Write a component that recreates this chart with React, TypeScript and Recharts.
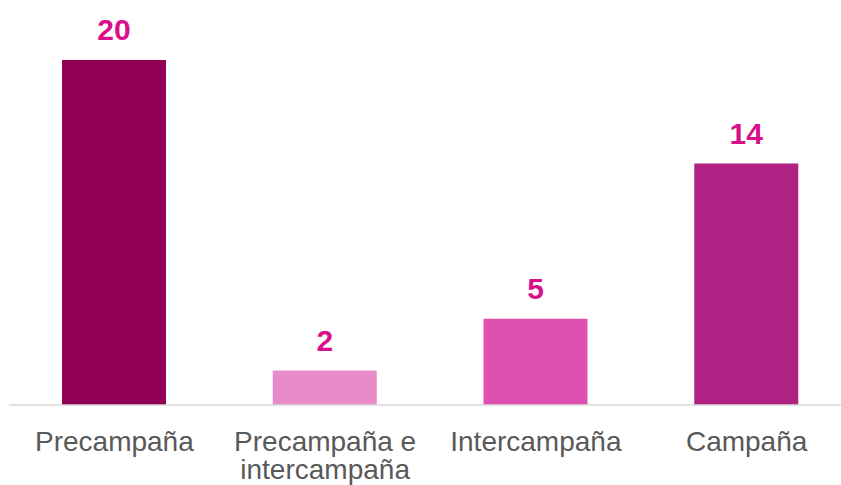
import { BarChart, Bar, XAxis, YAxis, Cell, LabelList } from 'recharts'

const categories = ['Precampaña', 'Precampaña e\nintercampaña', 'Intercampaña', 'Campaña']
const values = [20, 2, 5, 14]
const barColors = ['#920056', '#E98ACB', '#DF51B1', '#AF2182']

const chartData = categories.map((name, i) => ({ name, value: values[i] }))

const FONT = '"Liberation Sans", Arial, sans-serif'

function CategoryTick({ x, y, payload }: any) {
  const lines = String(payload.value).split('\n')
  return (
    <text x={x} y={y} textAnchor="middle" fill="#595959" fontSize={28} fontFamily={FONT}>
      {lines.map((line, i) => (
        <tspan key={i} x={x} dy={i === 0 ? 38 : 28}>
          {line}
        </tspan>
      ))}
    </text>
  )
}

export default function App() {
  return (
    <div style={{ position: 'absolute', left: 0, top: 0, width: 841, height: 485, overflow: 'hidden', background: '#fff' }}>
      <BarChart
        width={853}
        height={485}
        data={chartData}
        margin={{ top: 60, right: 1, bottom: 0, left: 9 }}
      >
        <XAxis
          dataKey="name"
          height={80}
          tickLine={false}
          axisLine={{ stroke: '#D9D9D9', strokeWidth: 1.5 }}
          tick={<CategoryTick />}
          interval={0}
        />
        <YAxis hide domain={[0, 20]} />
        <Bar dataKey="value" barSize={104} isAnimationActive={false}>
          {chartData.map((entry, index) => (
            <Cell key={`cell-${index}`} fill={barColors[index]} />
          ))}
          <LabelList
            dataKey="value"
            position="top"
            offset={20}
            fill="#D9108A"
            fontSize={30}
            fontWeight="bold"
            fontFamily={FONT}
          />
        </Bar>
      </BarChart>
    </div>
  )
}
